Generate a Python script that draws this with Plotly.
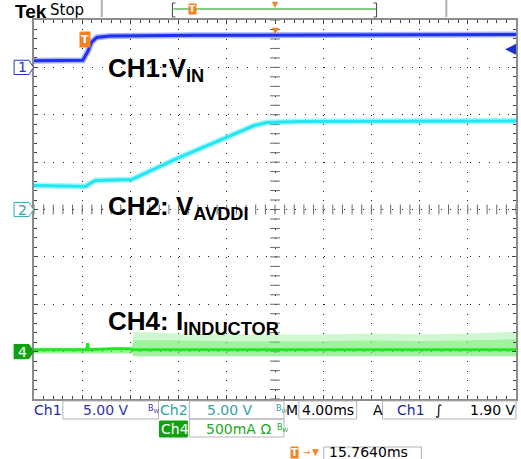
import plotly.graph_objects as go

# Time in ms relative to screen centre (4 ms/div), trigger at -15.764 ms
CH1_T = [-20, -15.95, -15.54, -15.2, -14.79, -13.72, -6.28, 20]
CH1_V = [0.69, 0.74, 1.67, 2.7, 3.16, 3.32, 3.38, 3.48]

CH2_T = [-20, -15.7, -15.37, -14.88, -11.9, -7.93, -4.05, -1.74, -0.66, 1.98, 20]
CH2_V = [2.53, 2.43, 2.74, 3.06, 3.16, 5.49, 7.59, 8.86, 9.18, 9.28, 9.35]

CH4_T = [-20, -15.62, -15.55, -15.48, -13.5, -12.0, -11.8, 20]
CH4_I = [0.02, 0.02, 0.09, 0.02, 0.03, 0.03, 0.02, 0.02]

CH4_ENV_T = [-20, -11.9, -11.7, -8, -4, 0, 4, 8, 12, 16, 20]
CH4_LOW = [-0.02, -0.02, -0.05, -0.05, -0.05, -0.05, -0.05, -0.05, -0.05, -0.05, -0.05]
CH4_MID = [0.04, 0.04, 0.12, 0.12, 0.11, 0.11, 0.11, 0.12, 0.11, 0.12, 0.13]
CH4_HIGH = [0.04, 0.04, 0.21, 0.19, 0.18, 0.18, 0.18, 0.19, 0.18, 0.19, 0.21]

CH1_SCALE, CH2_SCALE, CH4_SCALE = 5.0, 5.0, 0.5   # V/div, V/div, A/div
CH1_POS, CH2_POS, CH4_POS = 3, 0, -3              # divisions
TRIG_T = -15.764
TRIG_LEVEL = 1.90

BLUE = "#1f30f0"
CYAN = "#22e6f2"
GREEN = "#22e622"
ORANGE = "#f5821f"

W, H = 521, 459
L, R, T, B = 34, 518, 20, 399


def px(x):
    return (x - L) / (R - L)


def py(y):
    return (B - y) / (B - T)


def to_div(vals, scale, pos):
    return [v / scale + pos for v in vals]


fig = go.Figure()

# centre-cross tick marks of the graticule
fig.add_trace(go.Scatter(
    x=[i * 0.8 for i in range(-25, 26)], y=[0] * 51, mode="markers",
    marker=dict(symbol="line-ns", size=7, line=dict(width=1, color="#666")),
))
fig.add_trace(go.Scatter(
    x=[0] * 41, y=[i * 0.2 for i in range(-20, 21)], mode="markers",
    marker=dict(symbol="line-ew", size=7, line=dict(width=1, color="#666")),
))

# CH4 switching spikes (envelope)
fig.add_trace(go.Scatter(x=CH4_ENV_T, y=to_div(CH4_LOW, CH4_SCALE, CH4_POS),
                         mode="lines", line=dict(width=0)))
fig.add_trace(go.Scatter(x=CH4_ENV_T, y=to_div(CH4_HIGH, CH4_SCALE, CH4_POS),
                         mode="lines", line=dict(width=0), fill="tonexty",
                         fillcolor="rgba(120,235,120,0.35)"))
fig.add_trace(go.Scatter(x=CH4_ENV_T, y=to_div(CH4_LOW, CH4_SCALE, CH4_POS),
                         mode="lines", line=dict(width=0)))
fig.add_trace(go.Scatter(x=CH4_ENV_T, y=to_div(CH4_MID, CH4_SCALE, CH4_POS),
                         mode="lines", line=dict(width=0), fill="tonexty",
                         fillcolor="rgba(90,230,90,0.4)"))
fig.add_trace(go.Scatter(x=CH4_T, y=to_div(CH4_I, CH4_SCALE, CH4_POS),
                         mode="lines", line=dict(color=GREEN, width=3)))

# CH2
fig.add_trace(go.Scatter(x=CH2_T, y=to_div(CH2_V, CH2_SCALE, CH2_POS), mode="lines",
                         line=dict(color="rgba(34,230,242,0.4)", width=6)))
fig.add_trace(go.Scatter(x=CH2_T, y=to_div(CH2_V, CH2_SCALE, CH2_POS), mode="lines",
                         line=dict(color=CYAN, width=3)))

# CH1
fig.add_trace(go.Scatter(x=CH1_T, y=to_div(CH1_V, CH1_SCALE, CH1_POS), mode="lines",
                         line=dict(color="rgba(60,80,255,0.45)", width=6)))
fig.add_trace(go.Scatter(x=CH1_T, y=to_div(CH1_V, CH1_SCALE, CH1_POS), mode="lines",
                         line=dict(color=BLUE, width=3)))

shapes = []
ann = []


def rect(x0, y0, x1, y1, line="#b4b4b4", fill=None):
    shapes.append(dict(type="rect", xref="paper", yref="paper",
                       x0=px(x0), x1=px(x1), y0=py(y1), y1=py(y0),
                       line=dict(color=line, width=1),
                       fillcolor=fill or "rgba(0,0,0,0)", layer="above"))


def seg(x0, y0, x1, y1, color, width=1):
    shapes.append(dict(type="line", xref="paper", yref="paper",
                       x0=px(x0), x1=px(x1), y0=py(y0), y1=py(y1),
                       line=dict(color=color, width=width)))


def note(x, y, text, color="black", size=14, anchor="left", family="DejaVu Sans",
         weight="normal", **kw):
    ann.append(dict(xref="paper", yref="paper", x=px(x), y=py(y), text=text,
                    showarrow=False, xanchor=anchor, yanchor="middle",
                    font=dict(color=color, size=size, family=family, weight=weight), **kw))


# header
note(13, 11, "Tek", size=19, family="Liberation Sans", weight="bold")
note(48, 10, "Stop", size=15)
seg(102, 0, 102, 17, "#b0b0b0", 2)
seg(448, 0, 448, 17, "#b0b0b0", 2)
seg(174, 9, 378, 9, "#86cc86", 2)
seg(173, 3, 173, 17, "#444", 1)
seg(173, 3, 176, 3, "#444", 1)
seg(173, 17, 176, 17, "#444", 1)
seg(378, 3, 378, 17, "#444", 1)
seg(375, 3, 378, 3, "#444", 1)
seg(375, 17, 378, 17, "#444", 1)
note(193, 9, "T", color="white", size=9, anchor="center", weight="bold",
     bgcolor=ORANGE, borderpad=0)
note(276, 4, "▼", color=ORANGE, size=8, anchor="center")

# graticule markers
ann.append(dict(x=0, y=1, xref="x", yref="paper", text="▼", showarrow=False,
                yanchor="top", font=dict(color=ORANGE, size=11)))
ann.append(dict(x=TRIG_T, y=py(31), xref="x", yref="paper", text="T", showarrow=False,
                font=dict(color="white", size=11, family="DejaVu Sans", weight="bold"),
                bgcolor=ORANGE, borderpad=1))
ann.append(dict(x=px(507), y=CH1_POS + TRIG_LEVEL / CH1_SCALE, xref="paper", yref="y",
                text="", showarrow=True, ax=11, ay=0, arrowhead=2, arrowsize=1.1,
                arrowwidth=2, arrowcolor="#1a30c8"))

# channel ground markers on the left
for pos, label, col, filled in [(CH1_POS, "1", "#2038c0", False),
                                (CH2_POS, "2", "#28aab0", False),
                                (CH4_POS, "4", "#10a010", True)]:
    h = 0.15
    path = (f"M {px(14)},{pos - h} L {px(29)},{pos - h} L {px(33.5)},{pos} "
            f"L {px(29)},{pos + h} L {px(14)},{pos + h} Z")
    shapes.append(dict(type="path", xref="paper", yref="y", path=path,
                       line=dict(color=col, width=1),
                       fillcolor=col if filled else "white"))
    ann.append(dict(x=px(22), y=pos, xref="paper", yref="y", text=label,
                    showarrow=False, xanchor="center",
                    font=dict(color="white" if filled else col,
                              size=14, family="DejaVu Sans")))

# channel captions
cap = dict(size=26, family="Liberation Sans", weight="bold")
note(106, 69, "CH1:V<sub>IN</sub>", **cap)
note(106, 207, "CH2: V<sub>AVDDI</sub>", **cap)
note(106, 322, "CH4: I<sub>INDUCTOR</sub>", **cap)

# readout rows
rect(63, 401, 159, 419)
rect(190, 401, 285, 419)
rect(300, 401, 358, 419)
rect(384, 401, 518, 419)
rect(190, 419, 285, 437)
rect(160, 421, 188, 437, line="#10a010", fill="#10a010")
rect(325, 447, 423, 466)

note(32, 410, "Ch1", color="#1f2a9c")
note(81, 410, "5.00 V", color="#3232b4")
note(146, 409, "B<sub>W</sub>", color="#3232b4", size=8)
note(159, 410, "Ch2", color="#2aa3a8")
note(206, 410, "5.00 V", color="#35a2a8")
note(275, 409, "B<sub>W</sub>", color="#35a2a8", size=8)
note(285, 410, "M")
note(301, 410, "4.00ms")
note(372, 410, "A")
note(396, 410, "Ch1", color="#1f2a9c")
note(435, 410, "∫", size=14)
note(470, 410, "1.90 V")
note(160, 429, "Ch4", color="white")
note(205, 429, "500mA Ω", color="#22aa22")
note(276, 428, "B<sub>W</sub>", color="#22aa22", size=8)
note(291, 452, "T", color="white", size=10, weight="bold", bgcolor=ORANGE, borderpad=0)
note(302, 452, "→", color=ORANGE, size=9)
note(311, 452, "▼", color=ORANGE, size=9)
note(328, 452, "15.7640ms")

fig.update_layout(
    width=W, height=H,
    margin=dict(l=L, r=W - R, t=T, b=H - B),
    paper_bgcolor="white", plot_bgcolor="white",
    showlegend=False, hovermode=False,
    shapes=shapes, annotations=ann,
)
fig.update_xaxes(
    range=[-20, 20], dtick=4, tick0=0, showticklabels=False,
    showgrid=True, gridcolor="#222", gridwidth=1, griddash="1px,8.48px",
    zeroline=False, showline=True, linecolor="#8c8c8c", linewidth=2, mirror="ticks",
    ticks="inside", ticklen=4, tickcolor="#444",
    minor=dict(dtick=0.8, ticks="inside", ticklen=3, tickcolor="#444", showgrid=False),
)
fig.update_yaxes(
    range=[-4, 4], dtick=1, tick0=0, showticklabels=False,
    showgrid=True, gridcolor="#222", gridwidth=1, griddash="1px,8.68px",
    zeroline=False, showline=True, linecolor="#8c8c8c", linewidth=2, mirror="ticks",
    ticks="inside", ticklen=4, tickcolor="#444",
    minor=dict(dtick=0.2, ticks="inside", ticklen=3, tickcolor="#444", showgrid=False),
)

fig.write_html("out.html", config={"displayModeBar": False},
               post_script="document.body.style.margin='0';")
